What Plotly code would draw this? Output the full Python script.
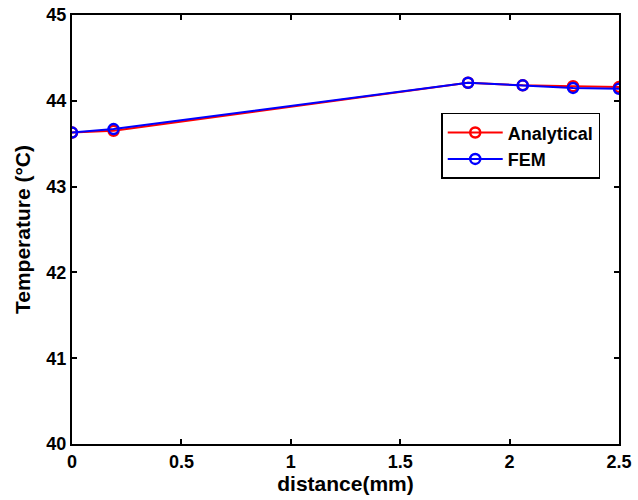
import plotly.graph_objects as go

distance = [0.0, 0.19, 1.81, 2.06, 2.29, 2.5]
analytical = [43.63, 43.65, 44.21, 44.18, 44.17, 44.16]
fem = [43.63, 43.67, 44.21, 44.18, 44.15, 44.14]
x_ticks = [0, 0.5, 1, 1.5, 2, 2.5]
x_tick_labels = ["0", "0.5", "1", "1.5", "2", "2.5"]
y_ticks = [40, 41, 42, 43, 44, 45]

fig = go.Figure()
fig.add_trace(go.Scatter(x=distance, y=analytical, mode="lines+markers", name="Analytical",
                         line=dict(color="#ff0000", width=2),
                         marker=dict(symbol="circle-open", size=10, color="#ff0000", line=dict(width=2.5))))
fig.add_trace(go.Scatter(x=distance, y=fem, mode="lines+markers", name="FEM",
                         line=dict(color="#0000ff", width=2),
                         marker=dict(symbol="circle-open", size=10, color="#0000ff", line=dict(width=2.5))))

fam = "Liberation Sans, Arial, sans-serif"
fig.update_layout(
    width=638, height=500,
    margin=dict(l=72, r=19, t=15, b=56),
    paper_bgcolor="white", plot_bgcolor="white",
    font=dict(family=fam, color="black", size=18),
    showlegend=True,
    legend=dict(x=0.675, y=0.772, xanchor="left", yanchor="top",
                bgcolor="white", bordercolor="black", borderwidth=1.5,
                font=dict(family=fam, size=18, color="black", weight="bold"),
                tracegroupgap=0, itemwidth=55),
    xaxis=dict(range=[0, 2.5], tickvals=x_ticks, ticktext=x_tick_labels,
               ticks="inside", ticklen=5, tickwidth=1.5, tickcolor="black",
               showline=True, linecolor="black", linewidth=2, mirror="ticks",
               showgrid=False, zeroline=False, automargin=False,
               tickfont=dict(size=18, weight="bold"),
               title=dict(text="distance(mm)", font=dict(size=21, weight="bold"), standoff=2)),
    yaxis=dict(range=[40, 45], tickvals=y_ticks,
               ticks="inside", ticklen=5, tickwidth=1.5, tickcolor="black",
               showline=True, linecolor="black", linewidth=2, mirror="ticks",
               showgrid=False, zeroline=False, automargin=False,
               tickfont=dict(size=18, weight="bold"),
               title=dict(text="Temperature (°C)", font=dict(size=21, weight="bold"), standoff=10)),
)
fig.write_html("out.html", config={"displayModeBar": False},
               post_script="document.body.style.margin='0';document.body.style.padding='0';")
